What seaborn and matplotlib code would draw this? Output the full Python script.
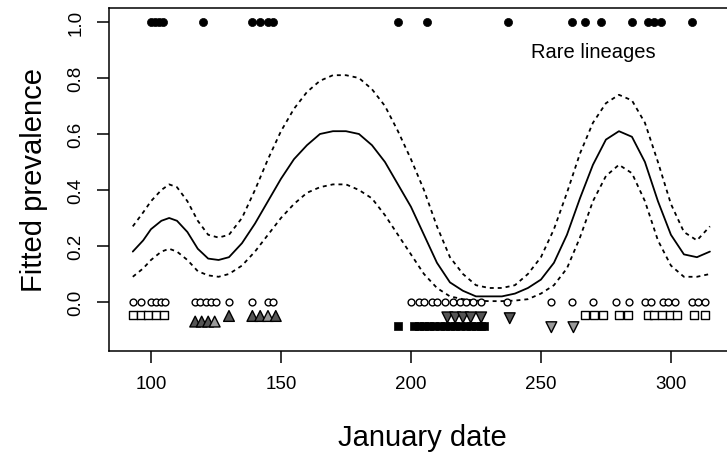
import numpy as np
import pandas as pd
import matplotlib
matplotlib.use("Agg")
import matplotlib.pyplot as plt
import seaborn as sns

# ---- fitted prevalence and its confidence band -------------------------
day = [93, 97, 100, 104, 107, 110, 114, 118, 122, 126, 130, 135, 140, 145,
       150, 155, 160, 165, 170, 175, 180, 185, 190, 195, 200, 205, 210, 215,
       220, 225, 230, 235, 240, 245, 250, 255, 260, 265, 270, 275, 280, 285,
       290, 295, 300, 305, 310, 315]
fit = [0.18, 0.22, 0.26, 0.29, 0.30, 0.29, 0.25, 0.19, 0.155, 0.15, 0.16, 0.21,
       0.28, 0.36, 0.44, 0.51, 0.56, 0.60, 0.61, 0.61, 0.60, 0.56, 0.50, 0.42,
       0.34, 0.24, 0.14, 0.07, 0.04, 0.02, 0.02, 0.02, 0.03, 0.05, 0.08, 0.14,
       0.24, 0.37, 0.49, 0.58, 0.61, 0.59, 0.50, 0.36, 0.24, 0.17, 0.16, 0.18]
upper = [0.27, 0.32, 0.36, 0.40, 0.42, 0.41, 0.36, 0.29, 0.24, 0.23, 0.24, 0.30,
         0.40, 0.51, 0.61, 0.69, 0.75, 0.79, 0.81, 0.81, 0.80, 0.76, 0.70, 0.61,
         0.51, 0.40, 0.27, 0.16, 0.10, 0.06, 0.05, 0.05, 0.06, 0.10, 0.16, 0.26,
         0.39, 0.53, 0.64, 0.71, 0.74, 0.72, 0.64, 0.50, 0.35, 0.25, 0.22, 0.27]
lower = [0.09, 0.12, 0.15, 0.18, 0.19, 0.18, 0.15, 0.11, 0.095, 0.09, 0.10,
         0.13, 0.18, 0.24, 0.30, 0.35, 0.39, 0.41, 0.42, 0.42, 0.40, 0.37, 0.31,
         0.24, 0.17, 0.10, 0.05, 0.02, 0.01, 0.005, 0.003, 0.003, 0.005, 0.01,
         0.03, 0.06, 0.12, 0.23, 0.36, 0.45, 0.49, 0.46, 0.36, 0.22, 0.13, 0.09,
         0.09, 0.10]

# ---- isolates: rare lineages (present = 1) ------------------------------
rare_days = [100, 101.5, 103, 104.5, 120, 139, 142, 145, 147, 195, 206, 237.5,
             262, 267, 273, 285, 291, 293.5, 296, 308]

# ---- isolates of other lineages (absent = 0), drawn in offset rows ------
circle_days = [93, 96, 100, 102, 104, 105.5, 117, 119, 121, 123, 125, 130, 139,
               145, 147, 200, 203, 205, 208, 210, 213, 216, 219, 221, 224, 227,
               237, 254, 262, 270, 279, 284, 290, 292.5, 297, 299, 301.5, 308,
               310.5, 313]
open_square_days = [93, 96, 99, 102, 105, 267, 270.5, 274, 280, 283.5, 291,
                    293.5, 296.5, 299.5, 302.5, 309, 313]
tri_up_days = [117, 119.5, 122, 124.5, 130, 139, 142, 145, 148]
tri_up_level = [-0.07, -0.07, -0.07, -0.07, -0.05, -0.05, -0.05, -0.05, -0.05]
tri_up_shade = ["dark", "dark", "dark", "light", "dark", "dark", "dark",
                "light", "dark"]
solid_square_days = [195, 201, 203, 205, 207, 209, 211, 213, 215, 217, 219,
                     221, 223, 225, 227, 228]
tri_down_days = [214, 217, 220, 223, 227, 238, 254, 262.5]
tri_down_level = [-0.055, -0.055, -0.055, -0.055, -0.055, -0.058, -0.09, -0.09]
tri_down_shade = ["dark", "dark", "dark", "dark", "dark", "dark", "light",
                  "light"]

x_ticks = [100, 150, 200, 250, 300]
y_ticks = [0.0, 0.2, 0.4, 0.6, 0.8, 1.0]
y_tick_labels = ["0.0", "0.2", "0.4", "0.6", "0.8", "1.0"]

sns.set_style("white")
plt.rcParams["font.family"] = ["Liberation Sans", "DejaVu Sans"]
plt.rcParams["text.color"] = "black"
plt.rcParams["axes.labelcolor"] = "black"

fig = plt.figure(figsize=(7.27, 4.60), dpi=100)
fig.patch.set_facecolor("white")

# the plotting box runs on past the right edge of the canvas
ax = fig.add_axes([109 / 727, 1 - 351.7 / 460, 626.4 / 727, 342.7 / 460])
ax.set_facecolor("white")

curves = pd.DataFrame({"day": day, "fit": fit, "upper": upper, "lower": lower})
sns.lineplot(data=curves, x="day", y="fit", color="black", lw=1.3, ax=ax)
for col in ("upper", "lower"):
    sns.lineplot(data=curves, x="day", y=col, color="black", lw=1.3,
                 linestyle=(0, (2.2, 2.2)), ax=ax)

shade_pal = {"dark": "#555555", "light": "#9a9a9a"}

sns.scatterplot(x=rare_days, y=[1.0] * len(rare_days), marker="o", s=34,
                color="black", edgecolor="black", linewidth=0.5, ax=ax,
                zorder=3)
sns.scatterplot(x=circle_days, y=[0.0] * len(circle_days), marker="o", s=24,
                facecolor="white", edgecolor="black", linewidth=1.0, ax=ax,
                zorder=3)
sns.scatterplot(x=open_square_days, y=[-0.045] * len(open_square_days),
                marker="s", s=40, facecolor="white", edgecolor="black",
                linewidth=1.0, ax=ax, zorder=3)
sns.scatterplot(x=solid_square_days, y=[-0.085] * len(solid_square_days),
                marker="s", s=36, color="black", edgecolor="black",
                linewidth=0.5, ax=ax, zorder=3)
up = pd.DataFrame({"day": tri_up_days, "level": tri_up_level,
                   "shade": tri_up_shade})
sns.scatterplot(data=up, x="day", y="level", hue="shade", palette=shade_pal,
                marker="^", s=60, edgecolor="black", linewidth=1.0,
                legend=False, ax=ax, zorder=3)
down = pd.DataFrame({"day": tri_down_days, "level": tri_down_level,
                     "shade": tri_down_shade})
sns.scatterplot(data=down, x="day", y="level", hue="shade", palette=shade_pal,
                marker="v", s=60, edgecolor="black", linewidth=1.0,
                legend=False, ax=ax, zorder=3)

ax.text(270, 0.895, "Rare lineages", fontsize=14.5, ha="center", va="center",
        color="black")

ax.set_xlim(83.85, 324.8)
ax.set_ylim(-0.174, 1.05)
ax.set_xticks(x_ticks)
ax.set_xticklabels([str(t) for t in x_ticks], fontsize=13.5)
ax.set_yticks(y_ticks)
ax.set_yticklabels(y_tick_labels, fontsize=13.5, rotation=90, va="center")
ax.tick_params(direction="out", length=8.5, width=1.1, color="black",
               labelcolor="black", bottom=True, left=True)
ax.tick_params(axis="x", pad=9)
ax.tick_params(axis="y", pad=9)
for sp in ax.spines.values():
    sp.set_visible(True)
    sp.set_color("black")
    sp.set_linewidth(1.1)

ax.set_xlabel("January date", fontsize=21, labelpad=22, color="black")
ax.set_ylabel("Fitted prevalence", fontsize=21, labelpad=14, color="black")

fig.savefig("out.png", dpi=100, facecolor="white")
